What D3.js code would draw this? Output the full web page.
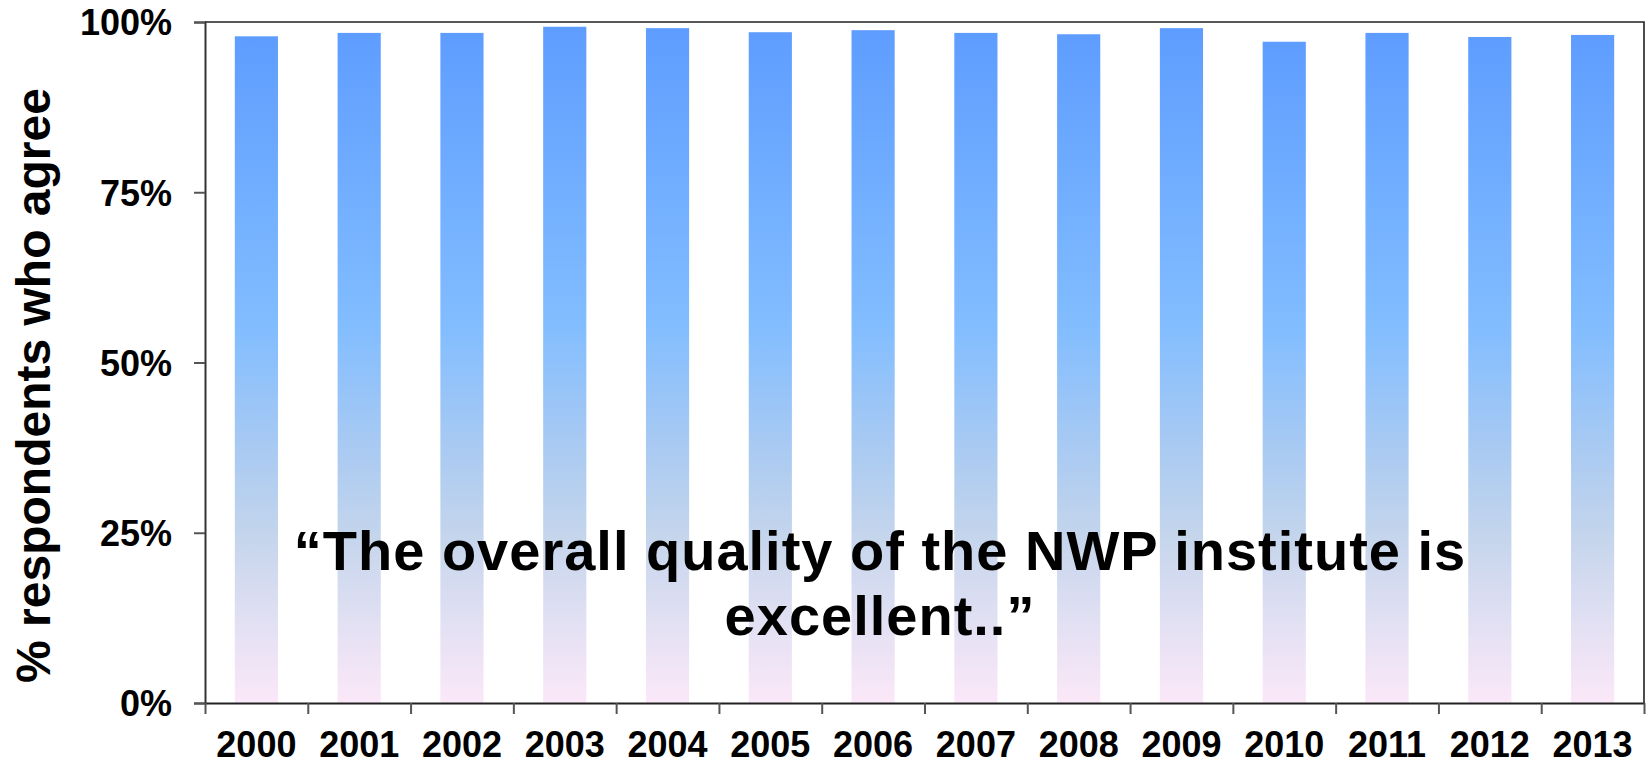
<!DOCTYPE html>
<html>
<head>
<meta charset="utf-8">
<script src="https://cdn.jsdelivr.net/npm/d3@7/dist/d3.min.js"></script>
<style>
  html, body { margin: 0; padding: 0; background: #fff; }
  svg { display: block; }
  text { font-family: "Liberation Sans", Arial, Helvetica, sans-serif; }
</style>
</head>
<body>
<svg id="chart" width="1647" height="765"></svg>
<script>
// Survey years and share of respondents who agree (fraction of 1)
const years = ["2000", "2001", "2002", "2003", "2004", "2005", "2006",
               "2007", "2008", "2009", "2010", "2011", "2012", "2013"];
const agreeShare = [0.979, 0.984, 0.984, 0.993, 0.991, 0.985, 0.988,
                    0.984, 0.982, 0.991, 0.971, 0.984, 0.978, 0.981];
const yTickValues = [0, 0.25, 0.5, 0.75, 1];
const yAxisTitle = "% respondents who agree";
const quoteLines = ["\u201CThe overall quality of the NWP institute is", "excellent..\u201D"];

const svg = d3.select("#chart");
const plot = { left: 205, right: 1644, top: 22, bottom: 703 };

const x = d3.scaleBand()
  .domain(years)
  .range([plot.left, plot.right])
  .paddingInner(0.58)
  .paddingOuter(0.29);

// category boundaries for the tick marks between years
const edge = d3.scaleLinear().domain([0, years.length]).range([plot.left, plot.right]);

const y = d3.scaleLinear().domain([0, 1]).range([plot.bottom, plot.top]);

// vertical fill of the bars: strong blue on top fading to pale pink
const defs = svg.append("defs");
const grad = defs.append("linearGradient")
  .attr("id", "barFill")
  .attr("x1", 0).attr("y1", 0).attr("x2", 0).attr("y2", 1);
[
  [0, "#5e9dff"], [0.44, "#82bdff"], [0.62, "#a9caf2"],
  [0.75, "#c4d5ec"], [0.88, "#e2e0f3"], [1, "#fbe8f8"]
].forEach(([o, c]) => grad.append("stop").attr("offset", o).attr("stop-color", c));

// bars
svg.append("g")
  .selectAll("rect")
  .data(years.map((yr, i) => ({ yr, v: agreeShare[i] })))
  .join("rect")
  .attr("x", d => x(d.yr))
  .attr("width", x.bandwidth())
  .attr("y", d => y(d.v))
  .attr("height", d => y(0) - y(d.v))
  .attr("fill", "url(#barFill)");

// top and right frame of the plot area
svg.append("path")
  .attr("d", `M${plot.left},${plot.top}H${plot.right}V${plot.bottom}`)
  .attr("fill", "none")
  .attr("stroke", "#222")
  .attr("stroke-width", 1.6);

// y axis
const yAxis = svg.append("g")
  .attr("transform", `translate(${plot.left},0)`)
  .call(d3.axisLeft(y)
    .tickValues(yTickValues)
    .tickFormat(d3.format(".0%"))
    .tickSize(11)
    .tickPadding(22));
yAxis.select(".domain").attr("stroke", "#333").attr("stroke-width", 2);
yAxis.selectAll(".tick line").attr("stroke", "#555").attr("stroke-width", 2);
yAxis.selectAll(".tick text")
  .attr("font-size", 36)
  .attr("font-weight", "bold")
  .attr("fill", "#000")
  .attr("dy", "0.36em");

// x axis: tick marks at category edges
const xAxis = svg.append("g")
  .attr("transform", `translate(0,${plot.bottom})`)
  .call(d3.axisBottom(edge)
    .tickValues(d3.range(years.length + 1))
    .tickFormat("")
    .tickSize(11)
    .tickSizeOuter(0));
xAxis.select(".domain").attr("stroke", "#222").attr("stroke-width", 2);
xAxis.selectAll(".tick line").attr("stroke", "#555").attr("stroke-width", 2);

// x axis: year labels under each bar
const xLabels = svg.append("g")
  .attr("transform", `translate(0,${plot.bottom})`)
  .call(d3.axisBottom(x).tickSize(0).tickPadding(0));
xLabels.select(".domain").remove();
xLabels.selectAll(".tick text")
  .attr("font-size", 36)
  .attr("font-weight", "bold")
  .attr("fill", "#000")
  .attr("dy", null)
  .attr("y", 54);

// y axis title
svg.append("text")
  .attr("transform", `translate(50,${(plot.top + plot.bottom) / 2 + 23}) rotate(-90)`)
  .attr("text-anchor", "middle")
  .attr("font-size", 48)
  .attr("font-weight", "bold")
  .attr("fill", "#000")
  .text(yAxisTitle);

// quotation over the bars
svg.append("g")
  .selectAll("text")
  .data(quoteLines)
  .join("text")
  .attr("x", 880)
  .attr("y", (d, i) => 570 + i * 65)
  .attr("text-anchor", "middle")
  .attr("font-size", 56)
  .attr("font-weight", "bold")
  .attr("letter-spacing", 1)
  .attr("fill", "#000")
  .text(d => d);
</script>
</body>
</html>
